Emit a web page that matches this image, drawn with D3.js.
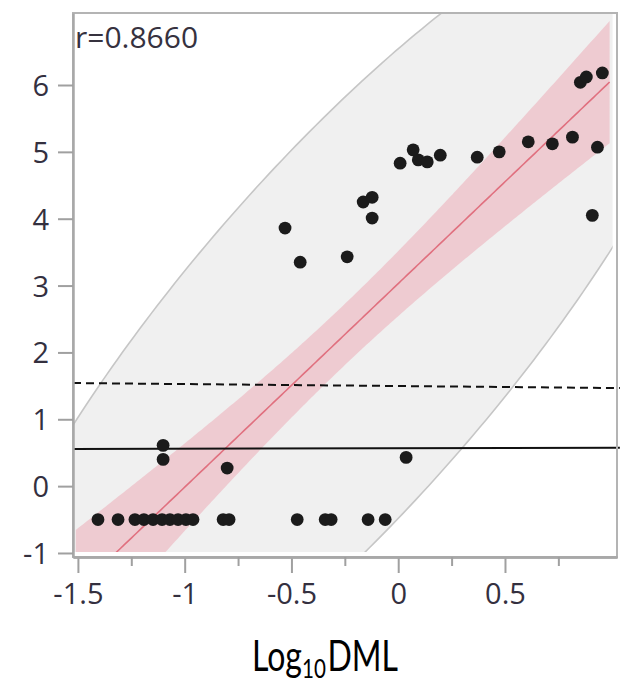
<!DOCTYPE html>
<html>
<head>
<meta charset="utf-8">
<script src="https://cdn.jsdelivr.net/npm/d3@7"></script>
<style>
  html, body { margin: 0; padding: 0; background: #fff; }
  svg { display: block; }
</style>
</head>
<body>
<svg id="chart" width="625" height="686"></svg>
<script>
// ---------- data ----------
const log10DML = [
  -1.406, -1.312, -1.233, -1.191, -1.148, -1.106, -1.069, -1.031, -0.994, -0.961,
  -0.820, -0.792, -0.473, -0.342, -0.314, -0.141, -0.061,
  -1.101, -1.101, -0.801, 0.037,
  -0.530, -0.459, -0.239, -0.164, -0.122, -0.122, 0.909,
  0.009, 0.070, 0.094, 0.136, 0.197, 0.370, 0.473, 0.609, 0.722, 0.816, 0.933,
  0.853, 0.881, 0.956
];
const response = [
  -0.5, -0.5, -0.5, -0.5, -0.5, -0.5, -0.5, -0.5, -0.5, -0.5,
  -0.5, -0.5, -0.5, -0.5, -0.5, -0.5, -0.5,
  0.61, 0.40, 0.27, 0.43,
  3.86, 3.35, 3.43, 4.25, 4.32, 4.01, 4.05,
  4.83, 5.03, 4.88, 4.85, 4.95, 4.92, 5.00, 5.15, 5.12, 5.22, 5.07,
  6.04, 6.12, 6.18
];
const xTickValues = [-1.5, -1, -0.5, 0, 0.5];
const xTickLabels = ["-1.5", "-1", "-0.5", "0", "0.5"];
const xMinorTicks = [-1.25, -0.75, -0.25, 0.25, 0.75];
const yTickValues = [-1, 0, 1, 2, 3, 4, 5, 6];
const yTickLabels = ["-1", "0", "1", "2", "3", "4", "5", "6"];
const dashedRef = [1.542, 1.467];   // value at left end, right end
const solidRef = [0.555, 0.574];
const fitRange = [-1.51, 0.99];
const ellipseLevel = 0.95;
const rLabel = "r=0.8660";
const titleParts = ["Log", "10", "DML"];

// ---------- layout ----------
const L = 73, R = 617, T = 13, B = 557;
const x = d3.scaleLinear().domain([-1.523, 1.0246]).range([L, R]);
const y = d3.scaleLinear().domain([-1.06, 7.077]).range([B, T]);

const svg = d3.select("#chart");

// ---------- statistics ----------
const pts = log10DML.map((v, i) => ({ x: v, y: response[i] }));
const n = pts.length;
const xbar = d3.mean(pts, d => d.x), ybar = d3.mean(pts, d => d.y);
const Sxx = d3.sum(pts, d => (d.x - xbar) ** 2);
const Syy = d3.sum(pts, d => (d.y - ybar) ** 2);
const Sxy = d3.sum(pts, d => (d.x - xbar) * (d.y - ybar));
const slope = Sxy / Sxx, intercept = ybar - slope * xbar;
const sse = d3.sum(pts, d => (d.y - intercept - slope * d.x) ** 2);
const s = Math.sqrt(sse / (n - 2));
const t = 2.021;
const grid = d3.range(0, 201).map(i => fitRange[0] + (fitRange[1] - fitRange[0]) * i / 200);
const band = grid.map(gx => {
  const yh = intercept + slope * gx;
  const h = Math.sqrt(1 / n + (gx - xbar) ** 2 / Sxx);
  return { x: gx, yh, lo: yh - t * s * h, hi: yh + t * s * h };
});

// density ellipse
const sx = Math.sqrt(Sxx / (n - 1)), sy = Math.sqrt(Syy / (n - 1));
const r = Sxy / Math.sqrt(Sxx * Syy);
const c = Math.sqrt(-2 * Math.log(1 - ellipseLevel));
const ell = d3.range(0, 361).map(i => {
  const th = i * Math.PI / 180;
  return {
    x: xbar + c * sx * Math.cos(th),
    y: ybar + c * sy * (r * Math.cos(th) + Math.sqrt(1 - r * r) * Math.sin(th))
  };
});

// clip
svg.append("defs").append("clipPath").attr("id", "plotClip")
  .append("rect").attr("x", L + 1).attr("y", T + 1).attr("width", x(fitRange[1]) + 3 - L - 1).attr("height", 551 - T);

const g = svg.append("g").attr("clip-path", "url(#plotClip)");
const ellLine = d3.line().x(d => x(d.x)).y(d => y(d.y));
g.append("path").datum(ell).attr("d", ellLine)
  .attr("fill", "#f0f0f0").attr("stroke", "#c6c6c6").attr("stroke-width", 1.6);

const areaM = d3.area().x(d => x(d.x)).y0(d => y(d.lo)).y1(d => y(d.hi));
g.append("path").datum(band).attr("d", areaM).attr("fill", "rgba(235,120,140,0.30)");
g.append("path").datum(band)
  .attr("d", d3.line().x(d => x(d.x)).y(d => y(d.yh)))
  .attr("fill", "none").attr("stroke", "#e0707f").attr("stroke-width", 1.6);

// reference lines
const refX = [-1.523, 1.038];
svg.append("line")
  .attr("x1", x(refX[0])).attr("x2", x(refX[1]))
  .attr("y1", y(dashedRef[0])).attr("y2", y(dashedRef[1]))
  .attr("stroke", "#111").attr("stroke-width", 2).attr("stroke-dasharray", "8,5");
svg.append("line")
  .attr("x1", x(refX[0])).attr("x2", x(refX[1]))
  .attr("y1", y(solidRef[0])).attr("y2", y(solidRef[1]))
  .attr("stroke", "#111").attr("stroke-width", 2);

// points
svg.append("g").selectAll("circle").data(pts).join("circle")
  .attr("cx", d => x(d.x)).attr("cy", d => y(d.y)).attr("r", 6.4)
  .attr("fill", "#1b1b1b");

// frame
svg.append("rect").attr("x", L).attr("y", T).attr("width", R - L).attr("height", B - T)
  .attr("fill", "none").attr("stroke", "#b4b4b4").attr("stroke-width", 2);

// axes
const xAxis = d3.axisBottom(x).tickValues(xTickValues)
  .tickFormat((d, i) => xTickLabels[i]).tickSize(16).tickSizeOuter(0).tickPadding(10);
const gx = svg.append("g").attr("transform", `translate(0,${B})`).call(xAxis);
const xMinor = d3.axisBottom(x).tickValues(xMinorTicks).tickFormat("").tickSize(9).tickSizeOuter(0);
const gxm = svg.append("g").attr("transform", `translate(0,${B})`).call(xMinor);
const yAxis = d3.axisLeft(y).tickValues(yTickValues)
  .tickFormat((d, i) => yTickLabels[i]).tickSize(15).tickSizeOuter(0).tickPadding(9);
const gy = svg.append("g").attr("transform", `translate(${L},0)`).call(yAxis);

[gx, gxm, gy].forEach(a => {
  a.select(".domain").attr("stroke", "#a8a8a8").attr("stroke-width", 2.5);
  a.selectAll(".tick line").attr("stroke", "#a0a0a0").attr("stroke-width", 2);
  a.selectAll("text").attr("font-family", "'Open Sans', sans-serif")
    .attr("font-size", 29).attr("fill", "#34303f");
});
gx.selectAll(".tick text").attr("dy", "0.71em");
gy.selectAll(".tick text").attr("dy", "0.36em");

// r label
svg.append("text").attr("x", 75).attr("y", 48).text(rLabel)
  .attr("font-family", "'Open Sans', sans-serif").attr("font-size", 30).attr("fill", "#36323f");

// x title: three pieces, horizontally compressed to the reference width
const sizes = [42, 27, 42], shifts = [0, 7, 0];
const titleG = svg.append("g");
const pieces = titleParts.map((p, i) => titleG.append("text").text(p)
  .attr("font-family", "Lato, 'Open Sans', sans-serif")
  .attr("font-size", sizes[i]).attr("fill", "#000"));
const widths = pieces.map(pc => pc.node().getComputedTextLength());
const W = d3.sum(widths) + 2;
const k = 146 / W;
let cx = 325 - 146 / 2;
pieces.forEach((pc, i) => {
  pc.attr("transform", `translate(${cx},${671 + shifts[i]}) scale(${k},1)`);
  cx += (widths[i] + (i === 1 ? 2 : 0)) * k;
});
</script>
</body>
</html>
